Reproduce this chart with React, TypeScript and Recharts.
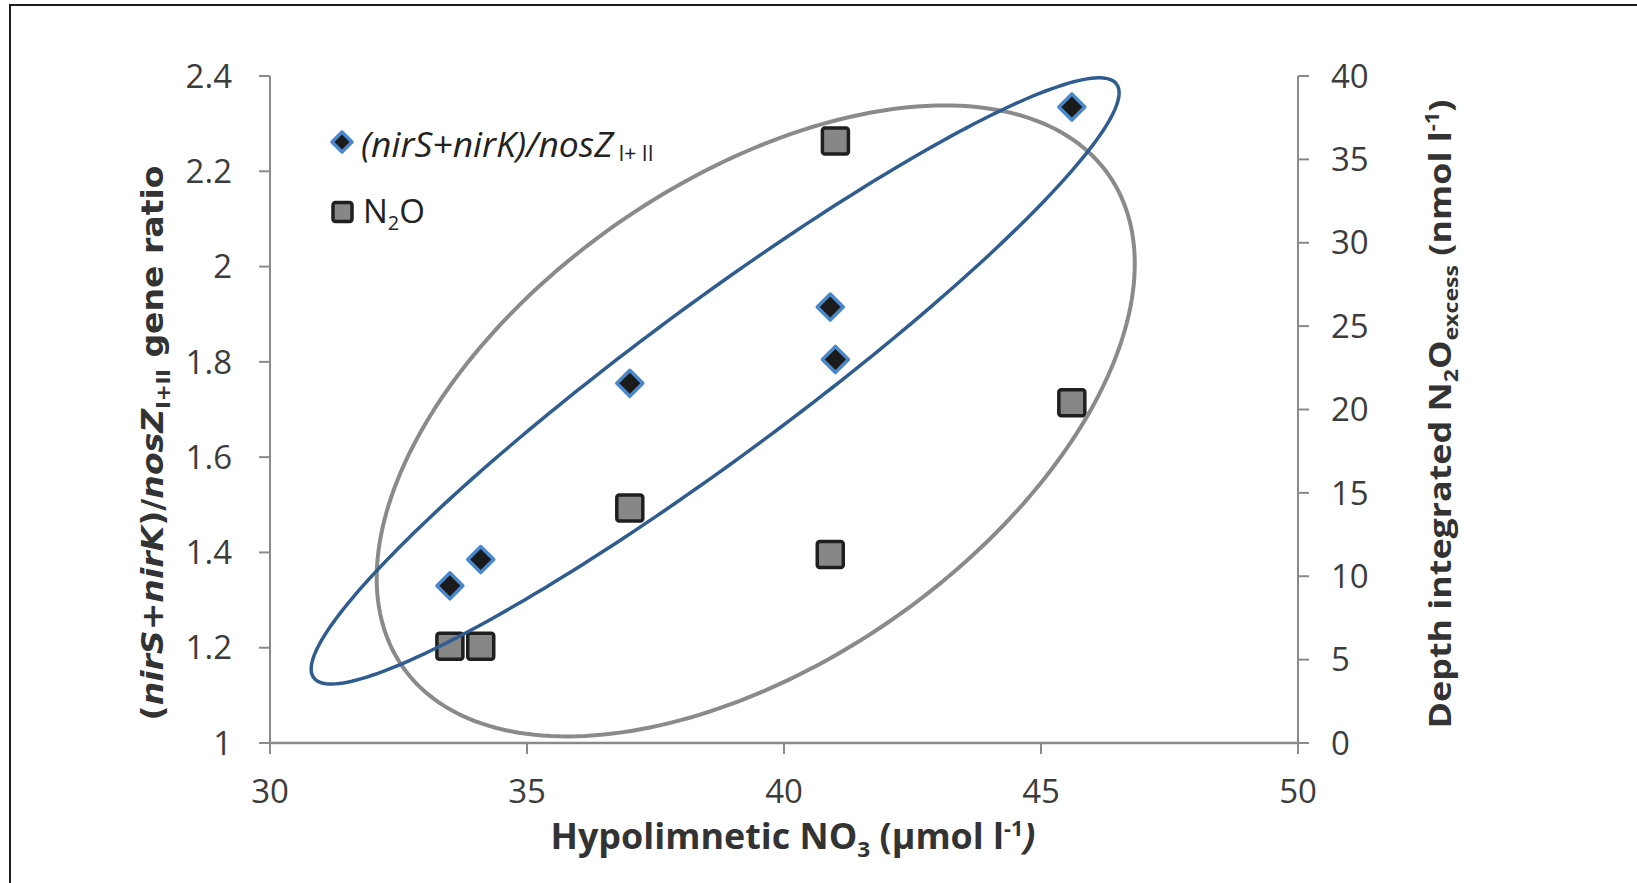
import React from 'react';
import { ScatterChart, Scatter, XAxis, YAxis, Legend } from 'recharts';

// ---- data ----
const geneNitrate = [33.5, 34.1, 37.0, 40.9, 41.0, 45.6];
const geneRatio = [1.33, 1.385, 1.755, 1.915, 1.805, 2.335];
const n2oNitrate = [33.5, 34.1, 37.0, 40.9, 41.0, 45.6];
const n2oExcess = [5.8, 5.8, 14.1, 11.3, 36.1, 20.4];

const xTicks = [30, 35, 40, 45, 50];
const leftTicks = [1, 1.2, 1.4, 1.6, 1.8, 2, 2.2, 2.4];
const rightTicks = [0, 5, 10, 15, 20, 25, 30, 35, 40];

// Hand-drawn ellipse annotations, in data units of the x axis / left axis:
// centre, end of major semi-axis, end of minor semi-axis
const blueEllipseCenter = [38.66, 1.76];
const blueEllipseMajor = [46.47, 2.383];
const blueEllipseMinor = [37.78, 1.889];
const grayEllipseCenter = [39.45, 1.676];
const grayEllipseMajor = [46.32, 2.192];
const grayEllipseMinor = [36.77, 2.091];

const geneData = geneNitrate.map((x, i) => ({ x, y: geneRatio[i] }));
const n2oData = n2oNitrate.map((x, i) => ({ x, y: n2oExcess[i] }));

function ellipseRing(c: number[], m: number[], n: number[], steps = 240) {
  const pts: { x: number; y: number }[] = [];
  for (let i = 0; i <= steps; i++) {
    const t = (2 * Math.PI * i) / steps;
    pts.push({
      x: c[0] + (m[0] - c[0]) * Math.cos(t) + (n[0] - c[0]) * Math.sin(t),
      y: c[1] + (m[1] - c[1]) * Math.cos(t) + (n[1] - c[1]) * Math.sin(t),
    });
  }
  return pts;
}
const blueRing = ellipseRing(blueEllipseCenter, blueEllipseMajor, blueEllipseMinor);
const grayRing = ellipseRing(grayEllipseCenter, grayEllipseMajor, grayEllipseMinor);

const AXIS = '#8a8a8a';
const TICK_FONT = { fill: '#3c3c3c', fontSize: 33, fontFamily: 'Open Sans' };

const Diamond = ({ cx, cy, r = 13 }: any) => (
  <polygon
    points={`${cx},${cy - r} ${cx + r},${cy} ${cx},${cy + r} ${cx - r},${cy}`}
    fill="#1b1b1b"
    stroke="#4a88cc"
    strokeWidth={3.5}
    strokeLinejoin="round"
  />
);

const Square = ({ cx, cy, s = 26 }: any) => (
  <rect
    x={cx - s / 2}
    y={cy - s / 2}
    width={s}
    height={s}
    rx={2.5}
    fill="#878787"
    stroke="#1f1f1f"
    strokeWidth={3.5}
  />
);

const LegendContent = () => (
  <svg width={420} height={140} style={{ overflow: 'visible', display: 'block' }}>
    <Diamond cx={42} cy={32} r={10} />
    <text x={61} y={47} fontFamily="Open Sans" fontStyle="italic" fill="#222">
      <tspan fontSize={35} textLength={252} lengthAdjust="spacingAndGlyphs">
        (nirS+nirK)/nosZ
      </tspan>
      <tspan fontStyle="normal" fontSize={21} dy={4}>
        {' I+ II'}
      </tspan>
    </text>
    <Square cx={42.5} cy={102} s={19} />
    <text x={63} y={113} fontFamily="Open Sans" fontSize={33} fill="#222">
      N
      <tspan fontSize={20} dy={7}>
        2
      </tspan>
      <tspan dy={-7}>O</tspan>
    </text>
  </svg>
);

const LeftAxisLabel = () => {
  const x = 163;
  const y = 443;
  return (
    <text
      x={x}
      y={y}
      transform={`rotate(-90 ${x} ${y})`}
      textAnchor="middle"
      fontFamily="DejaVu Sans"
      fontWeight="bold"
      fontSize={31}
      fill="#333"
      textLength={555}
      lengthAdjust="spacingAndGlyphs"
    >
      <tspan>(</tspan>
      <tspan fontStyle="italic">nirS</tspan>
      <tspan>+</tspan>
      <tspan fontStyle="italic">nirK</tspan>
      <tspan>)/</tspan>
      <tspan fontStyle="italic">nosZ</tspan>
      <tspan fontSize={19} dy={7}>
        I+II
      </tspan>
      <tspan dy={-7}> gene ratio</tspan>
    </text>
  );
};

const RightAxisLabel = () => {
  const x = 1451;
  const y = 414;
  return (
    <text
      x={x}
      y={y}
      transform={`rotate(-90 ${x} ${y})`}
      textAnchor="middle"
      fontFamily="Open Sans"
      fontWeight="bold"
      fontSize={31}
      fill="#333"
      textLength={629}
      lengthAdjust="spacingAndGlyphs"
    >
      <tspan>Depth integrated N</tspan>
      <tspan fontSize={20} dy={7}>
        2
      </tspan>
      <tspan dy={-7}>O</tspan>
      <tspan fontSize={20} dy={7}>
        excess
      </tspan>
      <tspan dy={-7}> (nmol l</tspan>
      <tspan fontSize={19} dy={-12}>
        -1
      </tspan>
      <tspan dy={12}>)</tspan>
    </text>
  );
};

const BottomAxisLabel = () => (
  <text
    x={793}
    y={849}
    textAnchor="middle"
    fontFamily="Open Sans"
    fontWeight="bold"
    fontSize={35}
    fill="#333"
    textLength={485}
    lengthAdjust="spacingAndGlyphs"
  >
    <tspan>Hypolimnetic NO</tspan>
    <tspan fontSize={22} dy={8}>
      3
    </tspan>
    <tspan dy={-8}> (µmol l</tspan>
    <tspan fontSize={21} dy={-13}>
      -1
    </tspan>
    <tspan dy={13} fontStyle="italic">
      )
    </tspan>
  </text>
);

export default function App() {
  return (
    <div style={{ position: 'absolute', left: 0, top: 0, width: 1637, height: 883, background: '#fff' }}>
      <ScatterChart width={1637} height={883} margin={{ top: 76, right: 0, bottom: 0, left: 0 }}>
        <XAxis
          type="number"
          dataKey="x"
          domain={[30, 50]}
          ticks={xTicks}
          interval={0}
          height={140}
          tickSize={11}
          tickMargin={26}
          axisLine={{ stroke: AXIS, strokeWidth: 2.5 }}
          tickLine={{ stroke: AXIS, strokeWidth: 2 }}
          tick={TICK_FONT}
          label={{ content: BottomAxisLabel }}
        />
        <YAxis
          yAxisId="left"
          type="number"
          dataKey="y"
          domain={[1, 2.4]}
          ticks={leftTicks}
          interval={0}
          width={270}
          tickSize={11}
          tickMargin={27}
          axisLine={{ stroke: AXIS, strokeWidth: 2 }}
          tickLine={{ stroke: AXIS, strokeWidth: 2 }}
          tick={TICK_FONT}
          label={{ content: LeftAxisLabel }}
        />
        <YAxis
          yAxisId="right"
          orientation="right"
          type="number"
          dataKey="y"
          domain={[0, 40]}
          ticks={rightTicks}
          interval={0}
          width={339}
          tickSize={11}
          tickMargin={22}
          axisLine={{ stroke: AXIS, strokeWidth: 2 }}
          tickLine={{ stroke: AXIS, strokeWidth: 2 }}
          tick={TICK_FONT}
          label={{ content: RightAxisLabel }}
        />
        <Legend
          layout="horizontal"
          align="center"
          verticalAlign="middle"
          wrapperStyle={{ left: 300, top: 110, width: 420, height: 140 }}
          content={LegendContent}
        />
        <Scatter
          name="(nirS+nirK)/nosZ I+II"
          data={geneData}
          yAxisId="left"
          shape={(p: any) => <Diamond cx={p.cx} cy={p.cy} />}
          isAnimationActive={false}
        />
        <Scatter
          name="N2O"
          data={n2oData}
          yAxisId="right"
          shape={(p: any) => <Square cx={p.cx} cy={p.cy} />}
          isAnimationActive={false}
        />
        <Scatter
          data={grayRing}
          yAxisId="left"
          line={{ stroke: '#8a8a8a', strokeWidth: 4 }}
          shape={() => <g />}
          legendType="none"
          isAnimationActive={false}
        />
        <Scatter
          data={blueRing}
          yAxisId="left"
          line={{ stroke: '#2f5d8f', strokeWidth: 3.5 }}
          shape={() => <g />}
          legendType="none"
          isAnimationActive={false}
        />
      </ScatterChart>
      <div
        style={{
          position: 'absolute',
          left: 9,
          top: 4,
          width: 1628,
          height: 879,
          borderTop: '2px solid #1a1a1a',
          borderLeft: '2px solid #1a1a1a',
          pointerEvents: 'none',
        }}
      />
    </div>
  );
}
